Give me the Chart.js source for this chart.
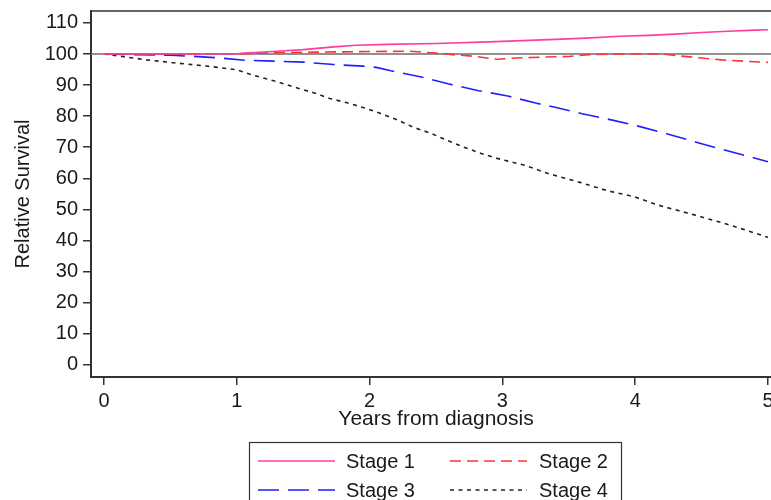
<!DOCTYPE html>
<html>
<head>
<meta charset="utf-8">
<script src="https://cdn.jsdelivr.net/npm/chart.js@4.4.1/dist/chart.umd.min.js"></script>
<style>
  html, body { margin: 0; padding: 0; background: #fff; overflow: hidden; }
  #wrap { width: 790px; height: 500px; }
</style>
</head>
<body>
<div id="wrap"><canvas id="c" width="790" height="500"></canvas></div>
<script>
// ---- data ----
const seriesNames = ['Stage 1', 'Stage 2', 'Stage 3', 'Stage 4'];

const stage1Years = [0, 0.5, 1, 1.1, 1.3, 1.5, 1.73, 1.9, 2.13, 2.5, 2.9, 3.2, 3.4, 3.63, 3.88, 4.1, 4.3, 4.5, 4.7, 4.9, 5];
const stage1Values = [100, 100, 100.1, 100.4, 100.9, 101.4, 102.3, 102.8, 103.1, 103.4, 103.9, 104.4, 104.7, 105.1, 105.7, 106, 106.4, 106.9, 107.3, 107.7, 107.8];

const stage2Years = [0, 0.5, 1, 1.3, 1.6, 2, 2.3, 2.5, 2.65, 2.8, 2.96, 3.1, 3.3, 3.5, 3.65, 3.9, 4.2, 4.3, 4.45, 4.65, 4.85, 5];
const stage2Values = [100, 100, 100.1, 100.4, 100.6, 100.8, 100.9, 100.3, 99.7, 99.2, 98.3, 98.7, 99.0, 99.2, 99.8, 100, 100, 99.5, 98.9, 98.1, 97.6, 97.3];

const stage3Years = [0, 0.2, 0.5, 0.65, 0.85, 1.06, 1.27, 1.5, 1.73, 1.95, 2.05, 2.16, 2.38, 2.59, 2.82, 3.04, 3.25, 3.38, 3.6, 3.82, 4.03, 4.25, 4.46, 4.68, 4.89, 5];
const stage3Values = [100, 99.8, 99.6, 99.3, 98.8, 98.0, 97.7, 97.4, 96.6, 96.1, 95.7, 94.6, 92.7, 90.4, 88.2, 86.5, 84.2, 83.0, 80.8, 78.8, 76.7, 74.2, 71.6, 69.0, 66.6, 65.3];

const stage4Years = [0, 0.07, 0.32, 0.52, 0.82, 1.0, 1.12, 1.3, 1.46, 1.58, 1.7, 1.83, 1.95, 2.08, 2.21, 2.33, 2.46, 2.59, 2.71, 2.84, 2.96, 3.16, 3.34, 3.59, 3.79, 3.99, 4.17, 4.42, 4.67, 4.87, 5.0];
const stage4Values = [100, 99.6, 98.1, 97.2, 95.9, 94.9, 93.2, 91.1, 89.0, 87.5, 85.7, 84.3, 82.8, 80.9, 78.8, 76.4, 74.5, 72.1, 70.0, 68.0, 66.4, 64.3, 61.6, 58.6, 56.0, 54.1, 51.4, 48.5, 45.5, 42.8, 41.0];

const referenceValue = 100;
const xTicks = [0, 1, 2, 3, 4, 5];
const yTicks = [0, 10, 20, 30, 40, 50, 60, 70, 80, 90, 100, 110];
const xTitle = 'Years from diagnosis';
const yTitle = 'Relative Survival';

// ---- chart ----
const X_MIN = -0.098, X_MAX = 5.098;
const Y_MIN = -3.96, Y_MAX = 113.84;
const FONT = '"Liberation Sans", Arial, sans-serif';
const toPts = (xs, ys) => xs.map((x, i) => ({ x: x, y: ys[i] }));

const styles = [
  { color: '#ff3d9e', dash: [] },
  { color: '#ff3333', dash: [11, 6] },
  { color: '#1f1fff', dash: [21, 9] },
  { color: '#222222', dash: [4, 4.5] }
];
const seriesData = [
  toPts(stage1Years, stage1Values),
  toPts(stage2Years, stage2Values),
  toPts(stage3Years, stage3Values),
  toPts(stage4Years, stage4Values)
];

const datasets = [{
  label: 'ref',
  data: [{ x: X_MIN, y: referenceValue }, { x: X_MAX, y: referenceValue }],
  borderColor: '#6b6b6b',
  borderWidth: 1.5,
  pointRadius: 0,
  order: 10
}].concat(seriesNames.map((n, i) => ({
  label: n,
  data: seriesData[i],
  borderColor: styles[i].color,
  borderDash: styles[i].dash,
  borderWidth: 1.6,
  pointRadius: 0,
  tension: 0,
  order: i
})));

const framePlugin = {
  id: 'frame',
  afterDatasetsDraw(chart) {
    const { ctx, chartArea: a } = chart;
    ctx.save();
    ctx.strokeStyle = '#333';
    ctx.lineWidth = 1.5;
    ctx.beginPath();
    ctx.moveTo(a.left, a.top);
    ctx.lineTo(a.right, a.top);
    ctx.lineTo(a.right, a.bottom);
    ctx.stroke();
    ctx.restore();
  }
};

const legendPlugin = {
  id: 'customLegend',
  afterDraw(chart) {
    const { ctx } = chart;
    ctx.save();
    ctx.strokeStyle = '#333';
    ctx.lineWidth = 1.2;
    ctx.strokeRect(249.5, 442.5, 372, 70);
    const cols = [{ lx: 258, tx: 346 }, { lx: 450, tx: 539 }];
    const rows = [461, 490];
    seriesNames.forEach((name, i) => {
      const c = cols[i % 2], r = rows[Math.floor(i / 2)];
      ctx.strokeStyle = styles[i].color;
      ctx.lineWidth = 1.6;
      ctx.setLineDash(styles[i].dash);
      ctx.beginPath();
      ctx.moveTo(c.lx, r);
      ctx.lineTo(c.lx + 77, r);
      ctx.stroke();
      ctx.setLineDash([]);
      ctx.fillStyle = '#1a1a1a';
      ctx.font = '20px ' + FONT;
      ctx.textBaseline = 'middle';
      ctx.textAlign = 'left';
      ctx.fillText(name, c.tx, r + 1);
    });
    ctx.restore();
  }
};

new Chart(document.getElementById('c'), {
  type: 'line',
  data: { datasets: datasets },
  plugins: [framePlugin, legendPlugin],
  options: {
    responsive: false,
    animation: false,
    devicePixelRatio: 1,
    layout: { padding: { left: 0, top: 11, right: 9, bottom: 0 } },
    plugins: { legend: { display: false }, tooltip: { enabled: false } },
    scales: {
      x: {
        type: 'linear',
        min: X_MIN, max: X_MAX,
        afterBuildTicks: s => { s.ticks = xTicks.map(v => ({ value: v })); },
        afterFit: s => { s.height = 123; s.paddingLeft = 0; s.paddingRight = 0; },
        grid: { drawOnChartArea: false, tickLength: 8, color: '#333', lineWidth: 1.5 },
        border: { color: '#333', width: 2 },
        ticks: { color: '#1a1a1a', font: { family: FONT, size: 20 }, padding: 4, maxRotation: 0 },
        title: { display: true, text: xTitle, color: '#1a1a1a', font: { family: FONT, size: 21 }, padding: { top: 0, bottom: 68 } }
      },
      y: {
        type: 'linear',
        min: Y_MIN, max: Y_MAX,
        afterBuildTicks: s => { s.ticks = yTicks.map(v => ({ value: v })); },
        afterFit: s => { s.width = 91; s.paddingTop = 0; s.paddingBottom = 0; },
        grid: { drawOnChartArea: false, tickLength: 8, color: '#333', lineWidth: 1.5 },
        border: { color: '#333', width: 2 },
        ticks: { color: '#1a1a1a', font: { family: FONT, size: 20 }, padding: 5 },
        title: { display: true, text: yTitle, color: '#1a1a1a', font: { family: FONT, size: 20 }, padding: { top: 11, bottom: 0 } }
      }
    }
  }
});
</script>
</body>
</html>
